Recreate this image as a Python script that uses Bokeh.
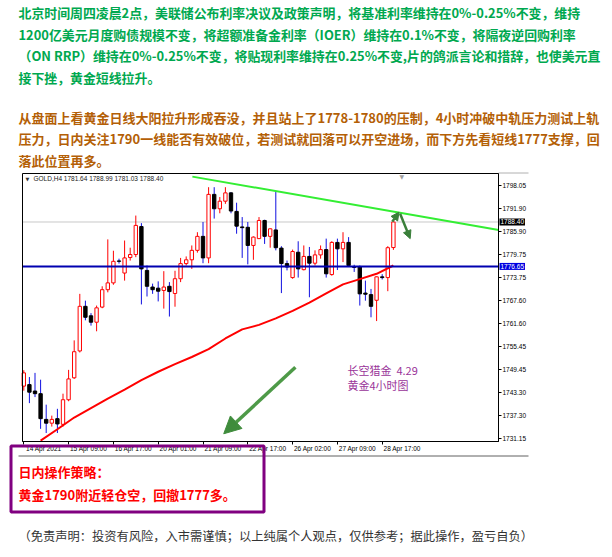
from bokeh.plotting import figure
from bokeh.models import (Range1d, LinearAxis, FixedTicker, PrintfTickFormatter, Label,
                          Arrow, NormalHead, ColumnDataSource)
from bokeh.embed import file_html
from bokeh.resources import INLINE

# ---------------- data ----------------
opens = [1745.0, 1745.4, 1743.7, 1743.0, 1736.2, 1735.2, 1736.4, 1734.9, 1741.4, 1747.2,
         1754.3, 1766.1, 1763.6, 1761.9, 1765.9, 1770.5, 1772.3, 1778.1, 1774.9, 1779.0,
         1779.8, 1787.2, 1775.6, 1771.2, 1770.9, 1770.3, 1771.4, 1769.5, 1773.4, 1777.4,
         1778.4, 1780.9, 1784.6, 1778.9, 1795.7, 1791.9, 1793.9, 1796.1, 1791.2, 1787.1,
         1787.0, 1782.2, 1784.0, 1788.8, 1784.6, 1786.3, 1781.5, 1777.4, 1773.7, 1780.4,
         1775.8, 1779.3, 1777.5, 1779.7, 1781.1, 1774.5, 1783.0, 1781.3, 1783.0, 1776.6,
         1776.6, 1769.6, 1769.2, 1767.7, 1773.9, 1773.7, 1781.64]
highs = [1749.2, 1747.4, 1748.5, 1746.7, 1740.1, 1737.2, 1739.0, 1743.0, 1749.3, 1757.1,
         1769.4, 1767.6, 1764.3, 1766.3, 1771.4, 1783.8, 1780.8, 1778.7, 1783.5, 1781.6,
         1790.1, 1788.1, 1776.9, 1772.1, 1772.7, 1775.4, 1772.5, 1775.5, 1778.9, 1779.3,
         1782.2, 1785.7, 1788.4, 1797.6, 1797.6, 1795.0, 1797.6, 1796.3, 1793.5, 1789.7,
         1788.4, 1784.6, 1789.7, 1789.0, 1786.7, 1796.6, 1782.0, 1778.2, 1781.1, 1783.3,
         1782.2, 1781.8, 1780.9, 1782.2, 1784.0, 1783.3, 1784.0, 1785.7, 1784.4, 1777.1,
         1776.9, 1772.9, 1770.7, 1774.0, 1774.6, 1782.0, 1788.99]
lows = [1743.8, 1740.5, 1742.1, 1733.7, 1732.6, 1734.3, 1732.6, 1734.3, 1741.0, 1746.9,
        1753.9, 1762.4, 1761.0, 1759.5, 1765.6, 1769.8, 1771.8, 1777.4, 1772.9, 1778.2,
        1779.1, 1766.6, 1768.7, 1769.4, 1767.4, 1765.5, 1763.4, 1766.0, 1772.5, 1776.9,
        1776.0, 1780.3, 1777.5, 1777.5, 1789.3, 1790.7, 1793.2, 1790.7, 1785.3, 1778.9,
        1777.2, 1778.4, 1783.9, 1782.6, 1781.6, 1780.9, 1769.6, 1775.6, 1773.4, 1773.7,
        1775.6, 1768.5, 1776.9, 1778.7, 1773.7, 1774.2, 1775.7, 1777.8, 1776.7, 1775.2,
        1766.3, 1767.6, 1763.2, 1762.2, 1773.2, 1770.1, 1781.03]
closes = [1748.5, 1743.4, 1743.0, 1736.4, 1735.2, 1736.2, 1735.0, 1741.4, 1746.9, 1754.1,
          1766.1, 1763.2, 1761.9, 1765.7, 1770.5, 1772.3, 1778.0, 1778.0, 1778.9, 1779.8,
          1787.5, 1776.0, 1771.4, 1770.5, 1770.1, 1771.2, 1770.0, 1773.4, 1777.4, 1778.4,
          1780.9, 1784.6, 1778.9, 1795.7, 1791.9, 1793.9, 1796.1, 1791.3, 1787.3, 1786.9,
          1782.2, 1784.4, 1788.8, 1784.6, 1786.6, 1781.6, 1777.4, 1776.5, 1780.6, 1776.0,
          1779.3, 1777.5, 1779.7, 1781.1, 1774.7, 1783.0, 1781.3, 1783.0, 1776.9, 1776.4,
          1769.4, 1769.3, 1766.1, 1773.9, 1773.7, 1781.6, 1788.40]
bars = list(range(len(opens)))

ma_bars = [3, 6, 9, 12, 15, 18, 21, 24, 27, 30, 33, 36, 39, 42, 45, 48, 51, 54, 57, 60, 63, 66]
ma_values = [1730.6, 1733.6, 1736.7, 1739.2, 1741.7, 1744.1, 1746.6, 1748.8, 1750.8,
             1752.7, 1754.8, 1757.6, 1760.0, 1761.2, 1762.9, 1764.9, 1767.1, 1769.5, 1771.9,
             1773.3, 1774.7, 1776.9]

price_ticks = [1798.05, 1791.90, 1785.90, 1779.75, 1773.75, 1767.60, 1761.60,
               1755.45, 1749.45, 1743.30, 1737.30, 1731.15]
date_ticks = [0, 8, 16, 24, 32, 40, 48, 56, 64]
date_labels = ["14 Apr 2021", "15 Apr 09:00", "16 Apr 17:00", "20 Apr 01:00", "21 Apr 09:00",
               "22 Apr 17:00", "26 Apr 02:00", "27 Apr 09:00", "28 Apr 17:00"]

trend_bars = [30.1, 84.8]
trend_prices = [1800.4, 1786.3]
support_price = 1776.65
bid_price = 1788.40

big_arrow = [48.5, 1750.0, 35.7, 1732.4]
up_arrow = [65.8, 1788.5, 67.0, 1791.0]
down_arrow = [67.2, 1790.6, 69.0, 1784.0]

chart_title = "GOLD,H4  1781.64 1788.99 1781.03 1788.40"
chart_note = ["长空猎金\u00a0 4.29", "黄金4小时图"]

para1 = ["北京时间周四凌晨2点，美联储公布利率决议及政策声明，将基准利率维持在0%-0.25%不变，维持",
         "1200亿美元月度购债规模不变，将超额准备金利率（IOER）维持在0.1%不变，将隔夜逆回购利率",
         "（ON RRP）维持在0%-0.25%不变，将贴现利率维持在0.25%不变,片的鸽派言论和措辞，也使美元直",
         "接下挫，黄金短线拉升。"]
para2 = ["从盘面上看黄金日线大阳拉升形成吞没，并且站上了1778-1780的压制，4小时冲破中轨压力测试上轨",
         "压力，日内关注1790一线能否有效破位，若测试就回落可以开空进场，而下方先看短线1777支撑，回",
         "落此位置再多。"]
strategy = ["日内操作策略：", "黄金1790附近轻仓空，回撤1777多。"]
disclaimer = "（免责声明：投资有风险，入市需谨慎；以上纯属个人观点，仅供参考；据此操作，盈亏自负）"

# ---------------- page geometry ----------------
W, H = 612, 557
BAR0_PX, BAR_PX = 23.3, 5.6                 # page x of bar 0, pixels per bar
TICK_HI_PX, TICK_LO_PX = 185.0, 438.0        # page y of top / bottom price tick
PX_PER_PRICE = (TICK_LO_PX - TICK_HI_PX) / (price_ticks[0] - price_ticks[-1])
CH_L, CH_R, CH_T, CH_B = 22, 498, 173, 441   # chart panel in page pixels


def bar_at(px):
    return (px - BAR0_PX) / BAR_PX


def price_at(py):
    return price_ticks[0] - (py - TICK_HI_PX) / PX_PER_PRICE


cx0, cx1 = bar_at(CH_L), bar_at(CH_R)
cy0, cy1 = price_at(CH_B), price_at(CH_T)

p = figure(width=W, height=H, output_backend="svg", toolbar_location=None,
           x_range=Range1d(bar_at(0), bar_at(W)), y_range=Range1d(price_at(H), price_at(0)),
           min_border_left=0, min_border_right=0, min_border_top=0, min_border_bottom=0,
           x_axis_location=None, y_axis_location=None, title=None)
p.grid.visible = False
p.outline_line_color = None
p.background_fill_color = "white"
p.border_fill_color = "white"

LABEL_SHIFT = 3.57
p.extra_x_ranges = {"lbl": Range1d(bar_at(0) - LABEL_SHIFT, bar_at(W) - LABEL_SHIFT),
                    "pgx": Range1d(0, W)}
p.extra_y_ranges = {"pgy": Range1d(H, 0)}

# bid line (behind everything)
p.line([cx0, cx1], [bid_price, bid_price], line_color="#C8C8C8", line_width=1)

# candles
up_idx = [i for i in bars if closes[i] >= opens[i]]
dn_idx = [i for i in bars if closes[i] < opens[i]]


def src(idx):
    return ColumnDataSource(dict(x=[bars[i] for i in idx], o=[opens[i] for i in idx],
                                 h=[highs[i] for i in idx], l=[lows[i] for i in idx],
                                 c=[closes[i] for i in idx]))


up, dn = src(up_idx), src(dn_idx)
p.segment(x0="x", y0="l", x1="x", y1="h", source=up, line_color="#FF0000", line_width=1)
p.segment(x0="x", y0="l", x1="x", y1="h", source=dn, line_color="#1010E0", line_width=1)
p.vbar(x="x", bottom="o", top="c", width=0.6, source=up, fill_color="white",
       line_color="#FF0000", line_width=1)
p.vbar(x="x", bottom="c", top="o", width=0.6, source=dn, fill_color="black",
       line_color="black", line_width=1)

# moving average, support line, trend line
p.line(ma_bars, ma_values, line_color="#FF0000", line_width=2)
p.line([cx0, cx1], [support_price, support_price], line_color="#0000B0", line_width=2)
p.line(trend_bars, trend_prices, line_color="#33EE33", line_width=2)

# chart border
p.quad(left=cx0, right=cx1, bottom=cy0, top=cy1, fill_color=None, line_color="black",
       line_width=1)

# axes drawn at the chart panel edges
yaxis = LinearAxis(ticker=FixedTicker(ticks=price_ticks),
                   formatter=PrintfTickFormatter(format="%.2f"),
                   fixed_location=cx1, bounds=(cy0, cy1))
yaxis.axis_line_color = "black"
yaxis.major_tick_out = 3
yaxis.major_tick_in = 0
yaxis.minor_tick_line_color = None
yaxis.major_label_standoff = 1
yaxis.major_label_text_font = "Liberation Sans"
yaxis.major_label_text_font_size = "6.5px"
yaxis.major_label_text_color = "black"
p.add_layout(yaxis, "right")

xaxis = LinearAxis(x_range_name="lbl",
                   ticker=FixedTicker(ticks=date_ticks,
                                      minor_ticks=[t - LABEL_SHIFT for t in date_ticks]),
                   major_label_overrides={t: lab for t, lab in zip(date_ticks, date_labels)},
                   fixed_location=cy0, bounds=(cx0 - LABEL_SHIFT, cx1 - LABEL_SHIFT))
xaxis.axis_line_color = "black"
xaxis.major_tick_out = 0
xaxis.major_tick_in = 0
xaxis.minor_tick_out = 3
xaxis.minor_tick_in = 0
xaxis.minor_tick_line_color = "black"
xaxis.major_label_standoff = 0
xaxis.major_label_text_font = "Liberation Sans"
xaxis.major_label_text_font_size = "6.5px"
xaxis.major_label_text_color = "black"
p.add_layout(xaxis, "below")

# arrows
big_c = "#4E9A48"
p.add_layout(Arrow(end=NormalHead(size=17, fill_color="#3F8C3C", line_color="#3F8C3C"),
                   x_start=big_arrow[0], y_start=big_arrow[1], x_end=big_arrow[2], y_end=big_arrow[3],
                   line_color=big_c, line_width=3.5))
sm_c = "#3A7F3A"
for a in (up_arrow, down_arrow):
    p.add_layout(Arrow(end=NormalHead(size=8, fill_color=sm_c, line_color=sm_c),
                       x_start=a[0], y_start=a[1], x_end=a[2], y_end=a[3],
                       line_color=sm_c, line_width=2.5))


def page_label(x, y, text, font, size, color, style="normal", **kw):
    p.add_layout(Label(x=x, y=y, x_range_name="pgx", y_range_name="pgy", text=text,
                       text_font=font, text_font_size=size, text_color=color,
                       text_font_style=style, text_baseline="middle", **kw))


# price tags on the right axis
p.add_layout(Label(x=499, y=bid_price, x_range_name="pgx", text="1788.40",
                   text_font="Liberation Sans", text_font_size="6.5px", text_color="white",
                   text_baseline="middle", background_fill_color="black", padding=1))
p.add_layout(Label(x=499, y=support_price, x_range_name="pgx", text="1776.65",
                   text_font="Liberation Sans", text_font_size="6.5px", text_color="white",
                   text_baseline="middle", background_fill_color="#0000E0", padding=1))

# chart header & markers
page_label(25, 178, "▼", "DejaVu Sans", "5px", "#333333")
page_label(33, 178, chart_title, "Liberation Sans", "6.5px", "#222222")
page_label(399, 175.5, "▼", "DejaVu Sans", "6px", "#A0A0A0")

# chart note (purple)
for txt, yy in zip(chart_note, [369.5, 384.5]):
    page_label(347, yy, txt, "Noto Sans CJK SC", "11px", "#993399")

# screenshot border lines
p.segment(x0=[498, 18], y0=[172.5, 455.5], x1=[528, 528], y1=[172.5, 455.5],
          x_range_name="pgx", y_range_name="pgy", line_color=["#B0B0B0", "#606060"], line_width=1)

# paragraphs
for txt, yy in zip(para1, [11.5, 33.5, 55, 76.5]):
    page_label(18, yy, txt, "Noto Sans CJK SC", "12.9px", "#00A84F", "bold")
for txt, yy in zip(para2, [117, 138, 159.5]):
    page_label(18, yy, txt, "Noto Sans CJK SC", "13px", "#B45F06", "bold")

# strategy box (drawn over the time axis labels)
box = p.quad(left=10.5, right=263.5, top=445.5, bottom=511.5, x_range_name="pgx",
             y_range_name="pgy", fill_color="white", fill_alpha=0, line_color="#800080",
             line_width=3)
box.level = "overlay"
for txt, yy in zip(strategy, [471, 494]):
    page_label(18, yy, txt, "Noto Sans CJK SC", "13px", "#FF0000", "bold")

page_label(18, 535, disclaimer, "Noto Sans CJK SC", "12.25px", "#333333")

open("out.html", "w").write(file_html(p, INLINE))
